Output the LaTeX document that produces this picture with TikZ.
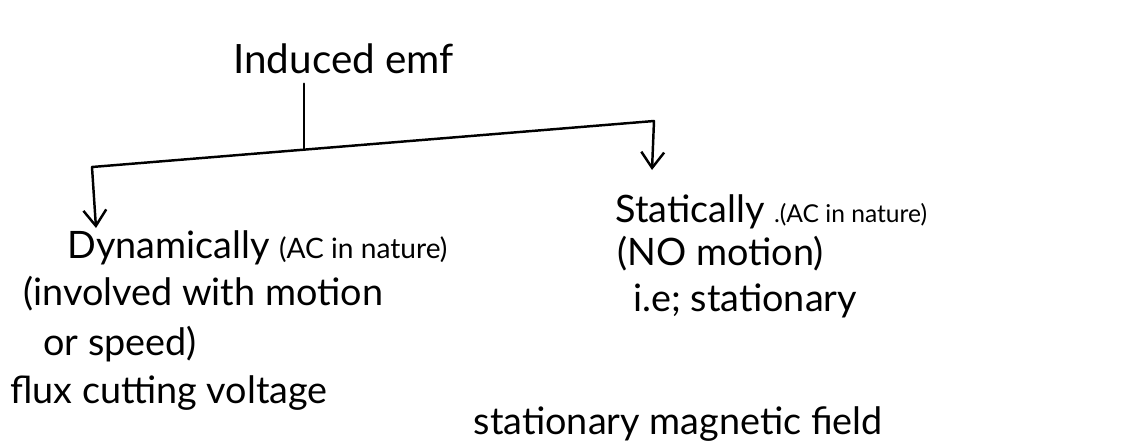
\documentclass[tikz,border=0pt]{standalone}
\usepackage{fontspec}
\setmainfont{Lato}
\usepackage{xcolor}
\usetikzlibrary{arrows.meta}

\tikzset{
  note/.style={anchor=base west, inner sep=0pt, font=\fontsize{21.5}{25}\selectfont},
  branch/.style={line width=1.4pt, line cap=round, line join=round},
  down/.style={branch, -{Straight Barb[length=9pt, width=13pt, line width=1.4pt]}}
}
\newcommand{\aside}[2]{{\fontsize{#1}{#1}\selectfont #2}}

\begin{document}
\begin{tikzpicture}[x=0.02cm, y=-0.02cm]
  \useasboundingbox[fill=white] (0,0) rectangle (1127,444);

  % root
  \node[note, font=\fontsize{23}{27}\selectfont] (root) at (233,73) {Induced emf};

  % split points of the tree
  \coordinate (split) at (304,150);
  \coordinate (lcorner) at (92,167);
  \coordinate (rcorner) at (654,121);
  \coordinate (ltip) at (96,228);
  \coordinate (rtip) at (652,170);

  % left branch
  \node[note] (dyn) at (67,258) {Dynamically \aside{16}{(AC in nature)}};
  \node[note] (dyn2) at (23,305) {(involved with motion};
  \node[note] (dyn3) at (43,355) {or speed)};
  \node[note] (dyn4) at (10,403) {flux cutting voltage};

  % right branch
  \node[note] (stat) at (615,222) {Statically \aside{14}{.(AC in nature)}};
  \node[note] (stat2) at (617,265) {(NO motion)};
  \node[note] (stat3) at (633,311) {i.e; stationary};
  \node[note, anchor=base east] (stat4) at (883,434) {stationary magnetic field};

  \draw[branch] (root.south -| split) ++(0,10) -- (split);
  \draw[branch] (lcorner) -- (rcorner);
  \draw[down] (lcorner) -- (ltip);
  \draw[down] (rcorner) -- (rtip);
\end{tikzpicture}
\end{document}
